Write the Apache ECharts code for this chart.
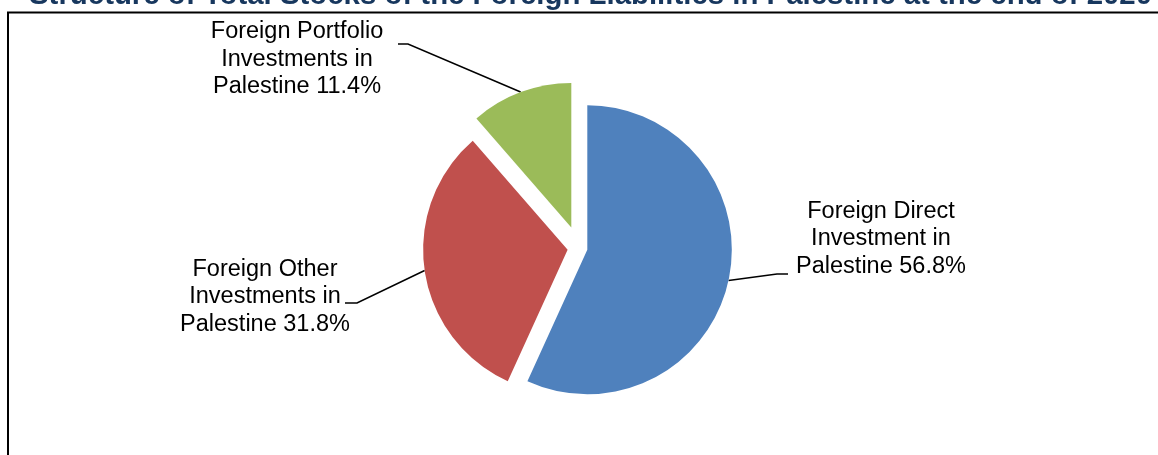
<!DOCTYPE html>
<html>
<head>
<meta charset="utf-8">
<script src="https://cdn.jsdelivr.net/npm/echarts@6/dist/echarts.min.js"></script>
<style>
  html, body { margin: 0; padding: 0; background: #fff; }
  #chart { width: 1158px; height: 455px; }
</style>
</head>
<body>
<div id="chart"></div>
<script>
// slice names and shares (%)
const categories = [
  'Foreign Direct\nInvestment in\nPalestine',
  'Foreign Other\nInvestments in\nPalestine',
  'Foreign Portfolio\nInvestments in\nPalestine'
];
const shares = [56.8, 31.8, 11.4];
const colors = ['#4F81BD', '#C0504D', '#9BBB59'];

// layout of the exploded pie and its callouts
const pieCenter = [579, 248];
const pieRadius = 144.5;
const explode = [8.5, 11.5, 22];
const labelCenters = [[881, 239], [265, 297], [297, 59.5]];
const labelElbows = [
  [[777, 274], [788, 274]],
  [[357, 303], [345, 303]],
  [[408, 44], [398, 44]]
];

const chart = echarts.init(document.getElementById('chart'));
const total = shares.reduce((a, b) => a + b, 0);

// one pie series per slice, so every slice gets its own explosion
let acc = 0;
const series = shares.map((v, i) => {
  const mid = (acc + v / 2) / total * 2 * Math.PI;
  acc += v;
  const cx = pieCenter[0] + explode[i] * Math.sin(mid);
  const cy = pieCenter[1] - explode[i] * Math.cos(mid);
  return {
    type: 'pie',
    center: [cx, cy],
    radius: pieRadius,
    startAngle: 90,
    clockwise: true,
    avoidLabelOverlap: false,
    silent: true,
    animation: false,
    itemStyle: { borderWidth: 0 },
    data: categories.map((name, j) => ({
      name: name,
      value: shares[j],
      itemStyle: { color: j === i ? colors[j] : 'rgba(0,0,0,0)' },
      label: { show: j === i },
      labelLine: { show: j === i }
    })),
    label: {
      position: 'outside',
      formatter: '{b} {c}%',
      color: '#000',
      fontFamily: 'Liberation Sans, Arial, sans-serif',
      fontSize: 23.5,
      lineHeight: 27.5,
      align: 'center'
    },
    labelLine: {
      length: 20,
      length2: 10,
      lineStyle: { color: '#000', width: 1.5 }
    },
    labelLayout: function (p) {
      if (p.dataIndex !== i) return {};
      const anchor = p.labelLinePoints ? p.labelLinePoints[0] : [cx, cy];
      return {
        x: labelCenters[i][0],
        y: labelCenters[i][1],
        align: 'center',
        verticalAlign: 'middle',
        labelLinePoints: [anchor, labelElbows[i][0], labelElbows[i][1]]
      };
    }
  };
});

chart.setOption({
  backgroundColor: '#fff',
  title: {
    text: 'Structure of Total Stocks of the Foreign Liabilities in Palestine at the end of 2020',
    left: 29,
    top: -19,
    padding: 0,
    textStyle: {
      fontFamily: 'Liberation Sans, Arial, sans-serif',
      fontSize: 29.4,
      fontWeight: 'bold',
      color: '#17375E'
    }
  },
  graphic: [{
    type: 'rect',
    z: -1,
    shape: { x: 8, y: 12.5, width: 1170, height: 470 },
    style: { fill: 'none', stroke: '#000', lineWidth: 2 }
  }],
  series: series
});
</script>
</body>
</html>
